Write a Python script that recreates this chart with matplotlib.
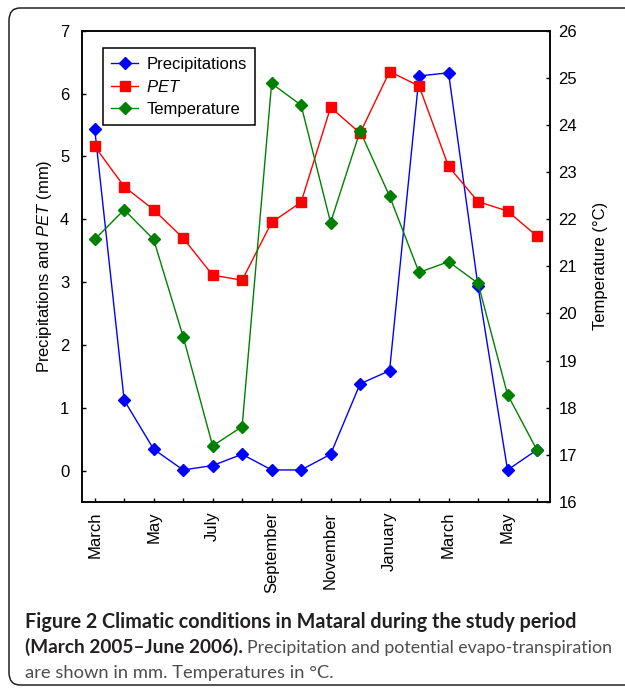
import numpy as np
import matplotlib
matplotlib.use('Agg')
import matplotlib.pyplot as plt
from matplotlib.patches import FancyBboxPatch

plt.rcParams['font.family'] = ['Liberation Sans', 'DejaVu Sans']
plt.rcParams['mathtext.fontset'] = 'custom'
plt.rcParams['mathtext.rm'] = 'Liberation Sans'
plt.rcParams['mathtext.it'] = 'Liberation Sans:italic'

# data (March 2005 - June 2006)
months = ['March', 'April', 'May', 'June', 'July', 'August', 'September', 'October',
          'November', 'December', 'January', 'February', 'March', 'April', 'May', 'June']
precip = [5.44, 1.12, 0.34, 0.01, 0.08, 0.26, 0.01, 0.01, 0.26, 1.38, 1.59, 6.28, 6.33, 2.93, 0.01, 0.33]
pet = [5.16, 4.52, 4.15, 3.70, 3.11, 3.03, 3.95, 4.27, 5.78, 5.37, 6.35, 6.12, 4.84, 4.28, 4.13, 3.73]
temp = [21.57, 22.2, 21.57, 19.51, 17.19, 17.6, 24.88, 24.42, 21.93, 23.87, 22.49, 20.87, 21.1, 20.64, 18.28, 17.1]

W, H = 625, 693
fig = plt.figure(figsize=(W / 100, H / 100), dpi=100)
fig.patch.set_facecolor('white')

# rounded frame round the figure + caption
box = FancyBboxPatch((9 / W, 8 / H), (W + 20) / W, (H - 16) / H,
                     boxstyle='round,pad=0,rounding_size=0.018', transform=fig.transFigure,
                     facecolor='none', edgecolor='#222222', lw=1.1, clip_on=False)
fig.patches.append(box)

ax = fig.add_axes([81.7 / W, 1 - 502 / H, (550 - 81.7) / W, (502 - 30.7) / H])
ax2 = ax.twinx()

x = np.arange(len(months))
l1, = ax.plot(x, precip, color='#0000ff', lw=1.0, marker='D', ms=6, label='Precipitations')
l2, = ax.plot(x, pet, color='#ff0000', lw=1.0, marker='s', ms=7, label='$\\it{PET}$')
l3, = ax2.plot(x, temp, color='#008000', lw=1.0, marker='D', ms=6, label='Temperature')

ax.set_xlim(-0.44, len(months) - 1 + 0.44)
ax.set_ylim(-0.5, 7)
ax2.set_ylim(16, 26)
ax.set_yticks(range(0, 8))
ax2.set_yticks(range(16, 27))

ax.set_xticks(x)
ax.set_xticklabels([m if i % 2 == 0 else '' for i, m in enumerate(months)], rotation=90, va='top')

for a in (ax, ax2):
    for s in a.spines.values():
        s.set_linewidth(1.1)
ax.tick_params(axis='both', direction='in', length=3, width=1, labelsize=12)
ax.tick_params(axis='y', pad=9)
ax.tick_params(axis='x', pad=7)
ax2.tick_params(axis='y', direction='in', length=3, width=1, labelsize=12, pad=6)

ax.set_ylabel('Precipitations and $\\it{PET}$ (mm)', fontsize=12)
ax.yaxis.set_label_coords(-0.06, 0.5)
ax2.set_ylabel('Temperature (°C)', fontsize=12)
ax2.yaxis.set_label_coords(1.092, 0.5)

leg = ax.legend(handles=[l1, l2, l3], loc='upper left', bbox_to_anchor=(0.0455, 0.9627),
                borderaxespad=0, fancybox=False, framealpha=1, edgecolor='black',
                fontsize=12, handlelength=1.6, handletextpad=0.5, labelspacing=0.42,
                borderpad=0.5)
leg.get_frame().set_linewidth(1.1)

# caption
cap_font = ['Lato', 'DejaVu Sans']
fig.text(25 / W, 1 - 628 / H, 'Figure 2 Climatic conditions in Mataral during the study period',
         fontsize=14.2, fontweight='bold', family=cap_font, color='#231f20')
t2 = fig.text(25 / W, 1 - 653 / H, '(March 2005\u2013June 2006).',
              fontsize=13.7, fontweight='bold', family=cap_font, color='#231f20')
fig.canvas.draw()
bb = t2.get_window_extent()
fig.text(bb.x1 / W + 4 / W, 1 - 653 / H, 'Precipitation and potential evapo-transpiration',
         fontsize=12.8, family=cap_font, color='#4d4d4f')
fig.text(25 / W, 1 - 678 / H, 'are shown in mm. Temperatures in °C.',
         fontsize=13.2, family=cap_font, color='#4d4d4f')

fig.savefig('out.png', dpi=100)
